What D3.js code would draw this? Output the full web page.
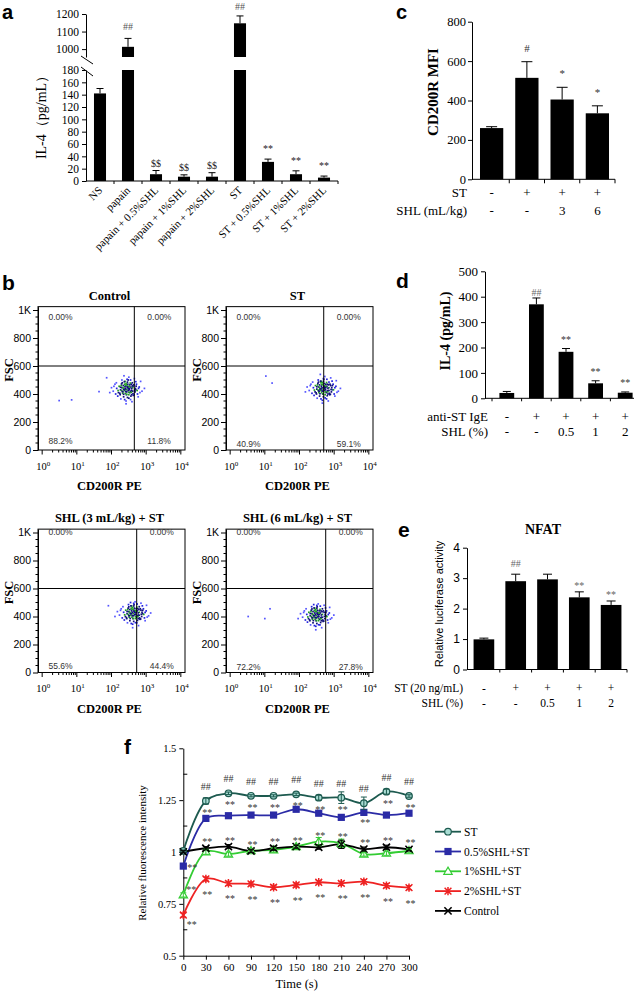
<!DOCTYPE html>
<html><head><meta charset="utf-8"><title>Figure</title>
<script src="https://cdn.jsdelivr.net/npm/d3@7/dist/d3.min.js"></script>
<style>html,body{margin:0;padding:0;background:#fff;}svg{display:block;}</style>
</head><body>
<svg id="fig" width="634" height="992" xmlns="http://www.w3.org/2000/svg"></svg>
<script>
// ================= DATA =================
// Panel a
const aCategories = ["NS","papain","papain + 0.5%SHL","papain + 1%SHL","papain + 2%SHL","ST","ST + 0.5%SHL","ST + 1%SHL","ST + 2%SHL"];
const aValues = [142, 1013, 11, 7, 7, 1147, 31, 11, 5.5];
const aErrors = [8, 48, 6, 3, 6.5, 42, 4.5, 5.5, 2.5];
const aMarks = ["", "##", "$$", "$$", "$$", "##", "**", "**", "**"];
const aTicksLower = [0,20,40,60,80,100,120,140,160,180];
const aTicksUpper = [1000,1100,1200];

// Panel c
const cGroups = ["c1","c2","c3","c4"];
const cValues = [260, 515, 405, 335];
const cErrors = [7, 82, 62, 38];
const cMarks = ["", "#", "*", "*"];
const cRowST = ["-","+","+","+"];
const cRowSHL = ["-","-","3","6"];
const cTicks = [0,200,400,600,800];

// Panel d
const dGroups = ["d1","d2","d3","d4","d5"];
const dValues = [21, 370, 183, 59, 22];
const dErrors = [6, 25, 13, 10, 3];
const dMarks = ["", "##", "**", "**", "**"];
const dRowIgE = ["-","+","+","+","+"];
const dRowSHL = ["-","-","0.5","1","2"];
const dTicks = [0,100,200,300,400,500];

// Panel e
const eGroups = ["e1","e2","e3","e4","e5"];
const eValues = [0.99, 2.9, 2.96, 2.37, 2.12];
const eErrors = [0.04, 0.23, 0.17, 0.18, 0.13];
const eMarks = ["", "##", "", "**", "**"];
const eRowST = ["-","+","+","+","+"];
const eRowSHL = ["-","-","0.5","1","2"];
const eTicks = [0,1,2,3,4];

// Panel b (flow cytometry) : [log10(CD200R PE), FSC]
const flowTitles = ["Control","ST","SHL (3 mL/kg) + ST","SHL (6 mL/kg) + ST"];
const flowQuadrants = [["0.00%","0.00%","88.2%","11.8%"],["0.00%","0.00%","40.9%","59.1%"],["0.00%","0.00%","55.6%","44.4%"],["0.00%","0.00%","72.2%","27.8%"]];
const flowGates = [455, 500, 533, 570];
const flowYTicks = [0,200,400,600,800,1000];
const flowYTickLabels = ["0","200","400","600","800","1K"];
const flowXDecades = [0,1,2,3,4];
const dotsControl = [
[2.44,430],[2.30,445],[2.55,420],[2.38,470],[2.62,455],[2.20,410],[2.50,395],[2.35,380],[2.70,430],[2.15,440],
[2.48,500],[2.60,480],[2.28,460],[2.42,350],[2.55,360],[2.75,400],[2.10,470],[2.33,415],[2.66,510],[2.45,455],
[2.52,440],[2.40,405],[2.58,425],[2.25,395],[2.80,450],[2.05,420],[2.47,470],[2.36,440],[2.63,390],[2.18,385],
[2.72,470],[2.30,500],[2.50,520],[2.42,330],[2.57,470],[2.88,420],[2.00,445],[2.26,430],[2.68,415],[2.39,490],
[2.53,410],[2.46,375],[2.61,445],[2.34,460],[2.44,415],[2.29,425],[2.77,380],[2.12,400],[2.49,455],[2.58,395],
[2.41,440],[2.37,425],[2.51,430],[2.56,450],[2.32,405],[2.46,485],[2.64,465],[2.22,455],[2.69,440],[2.43,395],
[2.95,440],[1.95,410],[2.84,490],[2.27,365],[2.59,345],[2.36,530],[2.74,425],[2.14,480],[2.53,465],[2.40,460],
[2.47,445],[2.39,452],[2.50,412],[2.35,432],[2.58,438],[2.43,465],[2.31,418],[2.62,402],[2.54,478],[2.26,448],
[2.67,428],[2.44,398],[2.37,488],[2.71,456],[2.19,425],[2.56,385],[2.48,425],[2.33,445],[2.60,460],[2.41,418],
[2.52,452],[2.29,472],[2.65,395],[2.45,505],[2.24,405],[2.78,440],[2.38,360],[2.55,500],[2.49,438],[2.42,475],
[2.61,420],[2.35,398],[2.57,412],[2.46,448],[2.07,455],[2.82,410],[2.50,370],[2.31,480],[2.70,488],[2.39,432],
[1.64,417],[1.86,516],[0.49,353],[0.85,358]];
const dotsST = [
[2.68,435],[2.55,450],[2.80,420],[2.62,480],[2.90,460],[2.45,415],[2.74,395],[2.58,385],[2.95,430],[2.40,445],
[2.70,505],[2.85,485],[2.52,465],[2.66,355],[2.78,365],[3.00,400],[2.33,470],[2.57,420],[2.90,515],[2.70,460],
[2.76,445],[2.64,410],[2.82,425],[2.49,400],[3.05,455],[2.28,425],[2.71,475],[2.60,440],[2.87,395],[2.42,390],
[2.97,470],[2.54,500],[2.73,525],[2.66,335],[2.81,470],[3.12,420],[2.22,450],[2.50,435],[2.92,415],[2.63,490],
[2.77,410],[2.69,380],[2.85,445],[2.58,465],[2.68,420],[2.53,430],[3.02,385],[2.36,405],[2.73,455],[2.82,400],
[2.65,445],[2.61,425],[2.75,430],[2.79,455],[2.56,410],[2.69,490],[2.88,470],[2.46,460],[2.93,445],[2.67,400],
[3.18,440],[2.17,415],[3.06,495],[2.51,370],[2.83,350],[2.60,540],[2.98,430],[2.38,485],[2.76,470],[2.64,465],
[2.71,448],[2.63,455],[2.74,415],[2.59,435],[2.82,442],[2.67,468],[2.55,422],[2.86,405],[2.78,482],[2.50,452],
[2.91,432],[2.68,402],[2.61,492],[2.95,460],[2.43,428],[2.80,388],[2.72,428],[2.57,448],[2.84,465],[2.65,422],
[2.76,456],[2.53,476],[2.89,398],[2.69,510],[2.48,408],[3.02,445],[2.62,365],[2.79,505],[2.73,442],[2.66,480],
[2.85,425],[2.59,402],[2.81,415],[2.70,452],[2.31,460],[3.08,412],[2.74,372],[2.55,485],[2.94,492],[2.63,436],
[1.03,528],[1.21,478]];
const dotsSHL3 = [
[2.63,420],[2.50,435],[2.75,405],[2.57,460],[2.85,445],[2.40,400],[2.69,385],[2.53,370],[2.90,420],[2.35,430],
[2.65,485],[2.80,470],[2.47,450],[2.61,345],[2.73,355],[2.95,390],[2.28,455],[2.52,405],[2.85,495],[2.65,445],
[2.71,430],[2.59,395],[2.77,410],[2.44,385],[3.00,440],[2.23,410],[2.66,460],[2.55,425],[2.82,380],[2.37,375],
[2.92,455],[2.49,485],[2.68,505],[2.61,320],[2.76,455],[3.07,405],[2.17,435],[2.45,420],[2.87,400],[2.58,475],
[2.72,395],[2.64,365],[2.80,430],[2.53,450],[2.63,405],[2.48,415],[2.97,370],[2.31,390],[2.68,440],[2.77,385],
[2.60,430],[2.56,410],[2.70,415],[2.74,440],[2.51,395],[2.64,475],[2.83,455],[2.41,445],[2.88,430],[2.62,385],
[3.13,425],[2.10,400],[3.01,480],[2.46,355],[2.78,335],[2.55,500],[2.93,415],[2.33,470],[2.71,455],[2.59,450],
[2.66,432],[2.58,440],[2.69,400],[2.54,420],[2.77,426],[2.62,452],[2.50,406],[2.81,390],[2.73,466],[2.45,436],
[2.86,416],[2.63,386],[2.56,476],[2.90,444],[2.38,412],[2.75,372],[2.67,412],[2.52,432],[2.79,449],[2.60,406],
[2.71,440],[2.48,460],[2.84,382],[2.64,494],[2.43,392],[2.97,429],[2.57,350],[2.74,489],[2.68,426],[2.61,464],
[2.80,409],[2.54,386],[2.76,399],[2.65,436],[2.26,444],[3.03,396],[2.69,356],[2.50,469],[2.89,476],[2.58,420],
[1.91,477]];
const dotsSHL6 = [
[2.49,405],[2.36,420],[2.61,390],[2.43,445],[2.71,430],[2.26,385],[2.55,370],[2.39,355],[2.76,405],[2.21,415],
[2.51,470],[2.66,455],[2.33,435],[2.47,330],[2.59,340],[2.81,375],[2.14,440],[2.38,390],[2.71,480],[2.51,430],
[2.57,415],[2.45,380],[2.63,395],[2.30,370],[2.86,425],[2.09,395],[2.52,445],[2.41,410],[2.68,365],[2.23,360],
[2.78,440],[2.35,470],[2.54,490],[2.47,305],[2.62,440],[2.93,390],[2.03,420],[2.31,405],[2.73,385],[2.44,460],
[2.58,380],[2.50,350],[2.66,415],[2.39,435],[2.49,390],[2.34,400],[2.83,355],[2.17,375],[2.54,425],[2.63,370],
[2.46,415],[2.42,395],[2.56,400],[2.60,425],[2.37,380],[2.50,460],[2.69,440],[2.27,430],[2.74,415],[2.48,370],
[2.99,410],[1.96,385],[2.87,465],[2.32,340],[2.64,320],[2.41,485],[2.79,400],[2.19,455],[2.57,440],[2.45,435],
[2.52,417],[2.44,425],[2.55,385],[2.40,405],[2.63,411],[2.48,437],[2.36,391],[2.67,375],[2.59,451],[2.31,421],
[2.72,401],[2.49,371],[2.42,461],[2.76,429],[2.24,397],[2.61,357],[2.53,397],[2.38,417],[2.65,434],[2.46,391],
[2.57,425],[2.34,445],[2.70,367],[2.50,479],[2.29,377],[2.83,414],[2.43,335],[2.60,474],[2.54,411],[2.47,449],
[2.66,394],[2.40,371],[2.62,384],[2.51,421],[2.12,429],[2.89,381],[2.55,341],[2.36,454],[2.75,461],[2.44,405],
[0.52,400],[1.00,385],[1.15,455]];
const flowDots = [dotsControl, dotsST, dotsSHL3, dotsSHL6];

// Panel f
const fTimes = [0,30,60,90,120,150,180,210,240,270,300];
const fSeriesNames = ["ST","0.5%SHL+ST","1%SHL+ST","2%SHL+ST","Control"];
const fST   = [1.005,1.246,1.283,1.271,1.271,1.278,1.262,1.262,1.235,1.291,1.270];
const fHalf = [0.932,1.162,1.175,1.178,1.178,1.206,1.187,1.167,1.191,1.178,1.187];
const fOne  = [0.793,1.001,0.990,1.006,1.010,1.026,1.050,1.042,0.990,0.994,1.006];
const fTwo  = [0.696,0.870,0.849,0.846,0.830,0.841,0.854,0.849,0.857,0.838,0.828];
const fCtrl = [1.001,1.018,1.026,1.005,1.018,1.026,1.023,1.037,1.014,1.023,1.013];
const fSTErr   = [0.005,0.015,0.006,0.005,0.005,0.006,0.012,0.028,0.030,0.012,0.006];
const fHalfErr = [0.010,0.010,0.008,0.008,0.008,0.010,0.008,0.010,0.010,0.008,0.008];
const fOneErr  = [0.010,0.012,0.010,0.008,0.010,0.010,0.020,0.020,0.010,0.010,0.010];
const fTwoErr  = [0.010,0.010,0.010,0.010,0.010,0.010,0.008,0.010,0.010,0.010,0.010];
const fCtrlErr = [0.005,0.008,0.010,0.008,0.010,0.008,0.010,0.020,0.010,0.010,0.008];
const fMarksST   = ["","##","##","##","##","##","##","##","##","##","##"];
const fMarksHalf = ["**","**","**","**","**","**","**","**","**","**","**"];
const fMarksOne  = ["**","**","**","**","**","**","**","**","**","**","**"];
const fMarksTwo  = ["**","**","**","**","**","**","**","**","**","**","**"];
const fYTicks = [0.5,0.75,1,1.25,1.5];
const fYMinor = [0.625,0.875,1.125,1.375];

// ================= DRAWING =================
const svg = d3.select("#fig");
const SERIF = "'Liberation Serif','Times New Roman',Times,serif";
const SANS = "'Liberation Sans',Arial,Helvetica,sans-serif";

function txt(x, y, s, o = {}) {
  return svg.append("text").attr("x", x).attr("y", y)
    .attr("font-family", o.family || SERIF).attr("font-size", o.size || 11)
    .attr("font-weight", o.weight || "normal").attr("fill", o.fill || "#000")
    .attr("text-anchor", o.anchor || "start").text(s);
}
function vlabel(s, cx, cy, o = {}) {
  svg.append("text").attr("transform", `translate(${cx},${cy}) rotate(-90)`)
    .attr("text-anchor", "middle").attr("dy", "0.35em")
    .attr("font-family", o.family || SERIF).attr("font-size", o.size || 12)
    .attr("font-weight", o.weight || "normal").attr("fill", "#000").text(s);
}
function line(x1, y1, x2, y2, color = "#000", w = 1) {
  return svg.append("line").attr("x1", x1).attr("y1", y1).attr("x2", x2).attr("y2", y2)
    .attr("stroke", color).attr("stroke-width", w);
}
function styleAxis(g, family, size) {
  g.attr("font-family", family).attr("font-size", size);
  g.select(".domain").attr("stroke", "#000");
  g.selectAll(".tick line").attr("stroke", "#000");
  g.selectAll(".tick text").attr("fill", "#000");
}
function errBar(cx, yFrom, yTo, cap, color = "#000", w = 1) {
  line(cx, yFrom, cx, yTo, color, w);
  line(cx - cap / 2, yTo, cx + cap / 2, yTo, color, w);
}
function panelLetter(s, x, y, size) {
  txt(x, y, s, { family: SANS, size: size || 21, weight: "bold" });
}
const intFmt = d3.format("d");

// ---------- Panel a ----------
panelLetter("a", 2, 18.5, 20);
{
  const x = d3.scaleBand().domain(aCategories).range([86, 338]).paddingInner(0.57).paddingOuter(0.285);
  const yLow = d3.scaleLinear().domain([0, 180]).range([181, 70]);
  const yUp = d3.scaleLinear().domain([955, 1200]).range([57, 14]);
  const bw = x.bandwidth();
  aCategories.forEach((c, i) => {
    const v = aValues[i], e = aErrors[i], x0 = x(c), cx = x0 + bw / 2;
    let errTop;
    if (v <= 180) {
      svg.append("rect").attr("x", x0).attr("y", yLow(v)).attr("width", bw).attr("height", yLow(0) - yLow(v)).attr("fill", "#000");
      errTop = yLow(v + e); errBar(cx, yLow(v), errTop, 7);
    } else {
      svg.append("rect").attr("x", x0).attr("y", yLow(180)).attr("width", bw).attr("height", yLow(0) - yLow(180)).attr("fill", "#000");
      svg.append("rect").attr("x", x0).attr("y", yUp(v)).attr("width", bw).attr("height", yUp(955) - yUp(v)).attr("fill", "#000");
      errTop = yUp(v + e); errBar(cx, yUp(v), errTop, 7);
    }
    const m = aMarks[i];
    if (m) {
      const off = m === "##" ? 8 : (m === "$$" ? 4 : 7);
      txt(cx, Math.max(errTop - off, 10), m, { size: 10, anchor: "middle", fill: m === "##" ? "#555" : "#222" });
    }
    svg.append("text").attr("transform", `translate(${cx + 3},${191}) rotate(-45)`)
      .attr("text-anchor", "end").attr("font-family", SERIF).attr("font-size", 11).attr("fill", "#000").text(c);
  });
  const gl = svg.append("g").attr("transform", "translate(86,0)")
    .call(d3.axisLeft(yLow).tickValues(aTicksLower).tickFormat(intFmt).tickSize(4).tickSizeOuter(0));
  styleAxis(gl, SERIF, 11.5);
  const gu = svg.append("g").attr("transform", "translate(86,0)")
    .call(d3.axisLeft(yUp).tickValues(aTicksUpper).tickFormat(intFmt).tickSize(4).tickSizeOuter(0));
  styleAxis(gu, SERIF, 11.5);
  // break marks
  line(81, 56, 93, 64);
  line(81, 67, 93, 76);
  // x axis
  line(86, yLow(0), 338, yLow(0));
  const step = x.step(), gap = step - bw;
  aCategories.forEach(c => line(x(c) - gap / 2 + step, yLow(0), x(c) - gap / 2 + step, yLow(0) + 3));
  vlabel("IL-4（pg/mL）", 41, 114, { size: 14 });
}

// ---------- Panel c ----------
panelLetter("c", 396, 18.5, 20);
{
  const x = d3.scaleBand().domain(cGroups).range([474, 615]).paddingInner(0.34).paddingOuter(0.17);
  const y = d3.scaleLinear().domain([0, 800]).range([179.3, 21.7]);
  const bw = x.bandwidth();
  cGroups.forEach((g, i) => {
    const v = cValues[i], e = cErrors[i], x0 = x(g), cx = x0 + bw / 2;
    svg.append("rect").attr("x", x0).attr("y", y(v)).attr("width", bw).attr("height", y(0) - y(v)).attr("fill", "#000");
    errBar(cx, y(v), y(v + e), 11);
    if (cMarks[i]) txt(cx, y(v + e) - 10, cMarks[i], { size: 11, anchor: "middle", fill: "#333" });
    txt(cx, 197, cRowST[i], { size: 13, anchor: "middle" });
    txt(cx, 214.5, cRowSHL[i], { size: 13, anchor: "middle" });
  });
  const ga = svg.append("g").attr("transform", "translate(472,0)")
    .call(d3.axisLeft(y).tickValues(cTicks).tickFormat(intFmt).tickSize(4).tickPadding(2).tickSizeOuter(0));
  styleAxis(ga, SERIF, 12.5);
  line(472, y(0), 615, y(0));
  const step = x.step(), gap = step - bw;
  cGroups.forEach(g => line(x(g) - gap / 2 + step, y(0), x(g) - gap / 2 + step, y(0) + 4));
  txt(467, 197, "ST", { size: 13, anchor: "end" });
  txt(467, 214.5, "SHL (mL/kg)", { size: 13, anchor: "end" });
  vlabel("CD200R MFI", 433, 92, { size: 15, weight: "bold" });
}

// ---------- Panel d ----------
panelLetter("d", 396, 288);
{
  const x = d3.scaleBand().domain(dGroups).range([492, 640]).paddingInner(0.5).paddingOuter(0.25);
  const y = d3.scaleLinear().domain([0, 500]).range([398.3, 271.3]);
  const bw = x.bandwidth();
  dGroups.forEach((g, i) => {
    const v = dValues[i], e = dErrors[i], x0 = x(g), cx = x0 + bw / 2;
    svg.append("rect").attr("x", x0).attr("y", y(v)).attr("width", bw).attr("height", y(0) - y(v)).attr("fill", "#000");
    errBar(cx, y(v), y(v + e), 8);
    const m = dMarks[i];
    if (m) txt(cx, y(v + e) - (m === "##" ? 2 : 6), m, { size: 10, anchor: "middle", fill: m === "##" ? "#666" : "#333" });
    txt(cx, 420.5, dRowIgE[i], { size: 13, anchor: "middle" });
    txt(cx, 435.5, dRowSHL[i], { size: 13, anchor: "middle" });
  });
  const ga = svg.append("g").attr("transform", "translate(485,0)")
    .call(d3.axisLeft(y).tickValues(dTicks).tickFormat(intFmt).tickSize(4).tickPadding(3).tickSizeOuter(0));
  styleAxis(ga, SERIF, 13);
  line(485, y(0), 640, y(0));
  const step = x.step(), gap = step - bw;
  dGroups.forEach(g => line(x(g) - gap / 2, y(0), x(g) - gap / 2, y(0) + 3));
  txt(488, 420.5, "anti-ST IgE", { size: 13, anchor: "end" });
  txt(488, 435.5, "SHL (%)", { size: 13, anchor: "end" });
  vlabel("IL-4 (pg/mL)", 445, 331, { size: 14, weight: "bold" });
}

// ---------- Panel e ----------
panelLetter("e", 398, 536.5);
{
  const x = d3.scaleBand().domain(eGroups).range([468, 627]).paddingInner(0.35).paddingOuter(0.175);
  const y = d3.scaleLinear().domain([0, 4]).range([669.5, 547.7]);
  const bw = x.bandwidth();
  eGroups.forEach((g, i) => {
    const v = eValues[i], e = eErrors[i], x0 = x(g), cx = x0 + bw / 2;
    svg.append("rect").attr("x", x0).attr("y", y(v)).attr("width", bw).attr("height", y(0) - y(v)).attr("fill", "#000");
    errBar(cx, y(v), y(v + e), 9);
    const m = eMarks[i];
    if (m) txt(cx, y(v + e) - (m === "##" ? 7 : 3), m, { size: 10, anchor: "middle", fill: "#666" });
    txt(cx, 691.5, eRowST[i], { size: 11.5, anchor: "middle" });
    txt(cx, 706.5, eRowSHL[i], { size: 11.5, anchor: "middle" });
  });
  const ga = svg.append("g").attr("transform", "translate(467,0)")
    .call(d3.axisLeft(y).tickValues(eTicks).tickFormat(intFmt).tickSize(4).tickPadding(3).tickSizeOuter(0));
  styleAxis(ga, SANS, 12);
  line(467, y(0), 627, y(0));
  const step = x.step(), gap = step - bw;
  eGroups.forEach(g => line(x(g) - gap / 2 + step, y(0), x(g) - gap / 2 + step, y(0) + 3));
  txt(463, 691.5, "ST (20 ng/mL)", { size: 11.5, anchor: "end" });
  txt(463, 706.5, "SHL (%)", { size: 11.5, anchor: "end" });
  txt(543, 534, "NFAT", { size: 14, weight: "bold", anchor: "middle" });
  vlabel("Relative luciferase activity", 439, 604, { size: 11, family: SANS });
}

// ---------- Panel b ----------
panelLetter("b", 2, 290);
{
  const FW = 147, FK = 0.14;
  const layout = [
    { ox: 38, y0: 450, topOff: 13.5, botOff: 6 },
    { ox: 226, y0: 450, topOff: 13.5, botOff: 3 },
    { ox: 38, y0: 672.5, topOff: 5.5, botOff: 3.5 },
    { ox: 226, y0: 672.5, topOff: 5.5, botOff: 3 }
  ];
  flowTitles.forEach((title, i) => {
    const L = layout[i];
    const x = d3.scaleLog().domain([Math.pow(10, -0.12), Math.pow(10, 4.12)]).range([L.ox, L.ox + FW]);
    const y = d3.scaleLinear().domain([0, 1024]).range([L.y0, L.y0 - 1024 * FK]);
    const top = y(1024);
    // dots with density-based colouring
    const pts = flowDots[i].map(d => [x(Math.pow(10, d[0])), y(d[1])]);
    pts.forEach((p, j) => {
      let n = 0;
      pts.forEach(q => { if (Math.hypot(p[0] - q[0], p[1] - q[1]) < 4.5) n++; });
      let col = "#5555ff";
      if (n >= 10) col = (j % 3 === 0) ? "#22a022" : "#10107a";
      else if (n >= 6) col = "#2222dd";
      svg.append("rect").attr("x", p[0] - 0.85).attr("y", p[1] - 0.85).attr("width", 1.7).attr("height", 1.7).attr("fill", col);
    });
    // frame and gates
    svg.append("rect").attr("x", L.ox).attr("y", top).attr("width", FW).attr("height", L.y0 - top)
      .attr("fill", "none").attr("stroke", "#000").attr("stroke-width", 1);
    line(x(flowGates[i]), top, x(flowGates[i]), L.y0, "#000", 1);
    line(L.ox, y(600), L.ox + FW, y(600), "#000", 1);
    // y axis
    const ga = svg.append("g").attr("transform", `translate(${L.ox},0)`)
      .call(d3.axisLeft(y).tickValues(flowYTicks).tickFormat((d, k) => flowYTickLabels[k]).tickSize(5).tickPadding(2).tickSizeOuter(0));
    styleAxis(ga, SANS, 10.5);
    d3.range(50, 1001, 50).filter(v => v % 200 !== 0).forEach(v => line(L.ox - 2.5, y(v), L.ox, y(v)));
    // x axis (log)
    flowXDecades.forEach(k => {
      const px = x(Math.pow(10, k));
      line(px, L.y0, px, L.y0 + 4.5);
      const t = svg.append("text").attr("x", px + 1).attr("y", L.y0 + 19.5).attr("text-anchor", "middle")
        .attr("font-family", SERIF).attr("font-size", 10.5).attr("fill", "#000");
      t.append("tspan").text("10");
      t.append("tspan").attr("dy", -4).attr("font-size", 7).text(String(k));
      if (k < 4) d3.range(2, 10).forEach(m => { const mx = x(m * Math.pow(10, k)); line(mx, L.y0, mx, L.y0 + 2.5); });
    });
    // quadrant labels
    const Q = flowQuadrants[i];
    const gx = x(flowGates[i]);
    txt(L.ox + 10.5, top + L.topOff, Q[0], { family: SANS, size: 8.5, fill: "#333" });
    txt(gx + 13, top + L.topOff, Q[1], { family: SANS, size: 8.5, fill: "#333" });
    txt(L.ox + 10.5, L.y0 - L.botOff, Q[2], { family: SANS, size: 8.5, fill: "#333" });
    txt(gx + 13, L.y0 - L.botOff, Q[3], { family: SANS, size: 8.5, fill: "#333" });
    // titles
    txt(L.ox + FW / 2 - 2, top - 7, title, { size: 12.5, weight: "bold", anchor: "middle" });
    txt(L.ox + FW / 2 - 2, L.y0 + 40, "CD200R PE", { size: 12.5, weight: "bold", anchor: "middle" });
    vlabel("FSC", L.ox - 29, L.y0 - 80, { size: 12.5, weight: "bold" });
  });
}

// ---------- Panel f ----------
panelLetter("f", 124, 754);
{
  const x = d3.scaleLinear().domain([0, 300]).range([183.3, 409]);
  const y = d3.scaleLinear().domain([0.5, 1.5]).range([955.7, 748.3]);
  const gy = svg.append("g").attr("transform", "translate(183.3,0)")
    .call(d3.axisLeft(y).tickValues(fYTicks).tickFormat(d3.format("")).tickSize(4).tickPadding(3).tickSizeOuter(0));
  styleAxis(gy, SERIF, 10.5);
  fYMinor.forEach(v => line(183.3, y(v), 187.3, y(v)));
  const gx = svg.append("g").attr("transform", "translate(0,955.7)")
    .call(d3.axisBottom(x).tickValues(fTimes).tickSize(4).tickPadding(4).tickSizeOuter(0));
  styleAxis(gx, SERIF, 11);
  txt(296.7, 987.5, "Time (s)", { size: 12.5, anchor: "middle" });
  vlabel("Relative fluorescence intensity", 142.5, 853, { size: 11 });

  const series = [
    { name: fSeriesNames[0], v: fST, e: fSTErr, color: "#1d5a4f", marker: "circle" },
    { name: fSeriesNames[1], v: fHalf, e: fHalfErr, color: "#2b2ba6", marker: "square" },
    { name: fSeriesNames[3], v: fTwo, e: fTwoErr, color: "#ee2222", marker: "asterisk" },
    { name: fSeriesNames[2], v: fOne, e: fOneErr, color: "#33cc33", marker: "triangle" },
    { name: fSeriesNames[4], v: fCtrl, e: fCtrlErr, color: "#000000", marker: "x" }
  ];
  function drawMarker(g, type, color, cx, cy) {
    if (type === "circle") g.append("circle").attr("cx", cx).attr("cy", cy).attr("r", 3.3).attr("fill", "#a9ddd4").attr("stroke", color).attr("stroke-width", 1.2);
    else if (type === "square") g.append("rect").attr("x", cx - 3.6).attr("y", cy - 3.6).attr("width", 7.2).attr("height", 7.2).attr("fill", color);
    else if (type === "triangle") g.append("path").attr("transform", `translate(${cx},${cy})`).attr("d", "M0,-4.2L4.2,3L-4.2,3Z").attr("fill", "#fff").attr("stroke", color).attr("stroke-width", 1.2);
    else if (type === "asterisk") g.append("path").attr("transform", `translate(${cx},${cy})`).attr("d", "M-3.4,-3.4L3.4,3.4M-3.4,3.4L3.4,-3.4M0,-4.2L0,4.2").attr("stroke", color).attr("stroke-width", 1.5).attr("fill", "none");
    else if (type === "x") g.append("path").attr("transform", `translate(${cx},${cy})`).attr("d", "M-3.6,-3.6L3.6,3.6M-3.6,3.6L3.6,-3.6").attr("stroke", color).attr("stroke-width", 1.6).attr("fill", "none");
  }
  const lineGen = d3.line().x((d, i) => x(fTimes[i])).y(d => y(d)).curve(d3.curveCatmullRom.alpha(0.5));
  const gLines = svg.append("g");
  series.forEach(s => {
    gLines.append("path").attr("d", lineGen(s.v)).attr("fill", "none").attr("stroke", s.color).attr("stroke-width", 1.8);
  });
  series.forEach(s => {
    s.v.forEach((v, i) => {
      const cx = x(fTimes[i]);
      line(cx, y(v - s.e[i]), cx, y(v + s.e[i]), s.color, 1);
      line(cx - 3, y(v + s.e[i]), cx + 3, y(v + s.e[i]), s.color, 1);
      line(cx - 3, y(v - s.e[i]), cx + 3, y(v - s.e[i]), s.color, 1);
    });
  });
  series.forEach(s => s.v.forEach((v, i) => drawMarker(gLines, s.marker, s.color, x(fTimes[i]), y(v))));

  // significance marks
  const mk = { size: 10, anchor: "middle", fill: "#333" };
  fTimes.forEach((t, i) => {
    const cx = x(t);
    if (fMarksST[i]) txt(cx, y(fST[i]) - 11, fMarksST[i], mk);
    if (fMarksHalf[i]) {
      if (i === 0) txt(cx + 9, y(fHalf[i]) + 5, fMarksHalf[i], mk);
      else if (i === 8) txt(cx + 1.5, y(fHalf[i]) + 13.5, fMarksHalf[i], mk);
      else txt(cx + 1.5, y(fST[i]) + 15, fMarksHalf[i], mk);
    }
    if (fMarksOne[i]) {
      if (i === 0) txt(cx + 8, y(fOne[i]) - 1.5, fMarksOne[i], mk);
      else txt(cx + 1.5, Math.min(y(fOne[i]), y(fCtrl[i])) - 3, fMarksOne[i], mk);
    }
    if (fMarksTwo[i]) {
      if (i === 0) txt(cx + 8.5, y(fTwo[i]) + 12.7, fMarksTwo[i], mk);
      else txt(cx + 1.5, y(fTwo[i]) + 19, fMarksTwo[i], mk);
    }
  });

  // legend (display order: ST, 0.5%, 1%, 2%, Control)
  const legendSeries = [series[0], series[1], series[3], series[2], series[4]];
  legendSeries.forEach((s, k) => {
    const ly = 831.7 + k * 19.8;
    line(435, ly, 461, ly, s.color, 1.8);
    drawMarker(svg, s.marker, s.color, 448, ly);
    txt(464, ly + 4, s.name, { size: 11.5 });
  });
}
</script>
</body></html>
